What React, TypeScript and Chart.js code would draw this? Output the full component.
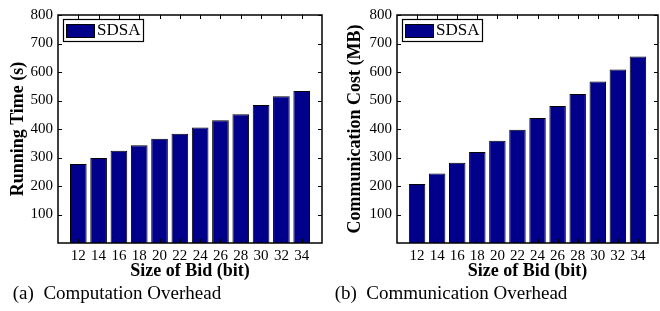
import React, { useEffect, useRef } from 'react';
import { Chart, registerables } from 'chart.js';

Chart.register(...registerables);

const bidSizes = [12, 14, 16, 18, 20, 22, 24, 26, 28, 30, 32, 34];
const runningTime = [277, 298, 324, 343, 366, 383, 405, 431, 452, 484, 515, 533];
const commCost = [207, 244, 282, 319, 359, 397, 439, 481, 523, 567, 609, 654];
const yTickValues = [100, 200, 300, 400, 500, 600, 700, 800];
const seriesLabel = 'SDSA';
const xTitle = 'Size of Bid (bit)';
const yTitleA = 'Running Time (s)';
const yTitleB = 'Communication Cost (MB)';
const captionA = '(a)  Computation Overhead';
const captionB = '(b)  Communication Overhead';

const FONT = "'Liberation Serif', 'Times New Roman', serif";
const BAR_COLOR = '#00008B';

const framePlugin = {
  id: 'frameTicksLegend',
  afterDatasetsDraw(chart: any) {
    const { ctx, chartArea, scales } = chart;
    const { left, right, top, bottom } = chartArea;
    const x = scales.x;
    const y = scales.y;
    ctx.save();
    ctx.strokeStyle = '#000';
    ctx.lineWidth = 1;
    const len = 4;
    ctx.beginPath();
    x.ticks.forEach((t: any) => {
      const px = Math.round(x.getPixelForValue(t.value)) + 0.5;
      ctx.moveTo(px, bottom);
      ctx.lineTo(px, bottom - len);
      ctx.moveTo(px, top);
      ctx.lineTo(px, top + len);
    });
    y.ticks.forEach((t: any) => {
      const py = Math.round(y.getPixelForValue(t.value)) + 0.5;
      ctx.moveTo(left, py);
      ctx.lineTo(left + len, py);
      ctx.moveTo(right, py);
      ctx.lineTo(right - len, py);
    });
    ctx.stroke();
    ctx.lineWidth = 1.5;
    ctx.strokeRect(left, top, right - left, bottom - top);

    // legend
    const opts = chart.options.plugins.frameTicksLegend || {};
    const bx = left + (opts.dx ?? 5);
    const by = top + 4;
    const bw = opts.w ?? 80;
    const bh = 22;
    ctx.fillStyle = '#fff';
    ctx.fillRect(bx, by, bw, bh);
    ctx.lineWidth = 1.2;
    ctx.strokeRect(bx + 0.5, by + 0.5, bw, bh);
    ctx.fillStyle = BAR_COLOR;
    ctx.fillRect(bx + 3, by + 5, 29, 14);
    ctx.lineWidth = 1;
    ctx.strokeRect(bx + 3.5, by + 5.5, 28, 13);
    ctx.fillStyle = '#000';
    ctx.font = `17px ${FONT}`;
    ctx.textBaseline = 'middle';
    ctx.textAlign = 'left';
    ctx.fillText(chart.data.datasets[0].label, bx + 34, by + 12);
    ctx.restore();
  },
};

function Panel(props: {
  values: number[];
  yTitle: string;
  yWidth: number;
  yTitlePad: number;
  rightPad: number;
  legendDx: number;
  legendW: number;
}) {
  const ref = useRef<HTMLCanvasElement>(null);
  useEffect(() => {
    const canvas = ref.current!;
    const chart = new Chart(canvas, {
      type: 'bar',
      data: {
        datasets: [
          {
            label: seriesLabel,
            data: bidSizes.map((b, i) => ({ x: b, y: props.values[i] })),
            backgroundColor: BAR_COLOR,
            borderColor: '#000',
            borderWidth: 1,
            barPercentage: 0.82,
            categoryPercentage: 1,
          },
        ],
      },
      options: {
        responsive: false,
        animation: false,
        devicePixelRatio: 1,
        layout: { padding: { left: 0, right: props.rightPad, top: 15, bottom: 0 } },
        plugins: {
          legend: { display: false },
          tooltip: { enabled: false },
          frameTicksLegend: { dx: props.legendDx, w: props.legendW },
        } as any,
        scales: {
          x: {
            type: 'linear',
            min: 10,
            max: 36,
            offset: false,
            grid: { display: false, drawTicks: false },
            border: { display: false },
            afterBuildTicks: (scale: any) => {
              scale.ticks = bidSizes.map((v) => ({ value: v }));
            },
            afterFit: (scale: any) => {
              scale.height = 42;
            },
            ticks: {
              color: '#000',
              font: { family: FONT, size: 15 },
              padding: 4,
              maxRotation: 0,
              autoSkip: false,
            },
            title: {
              display: true,
              text: xTitle,
              color: '#000',
              font: { family: FONT, size: 18, weight: 'bold' },
              padding: { top: 0, bottom: 3 },
            },
          },
          y: {
            min: 0,
            max: 800,
            grid: { display: false, drawTicks: false },
            border: { display: false },
            afterBuildTicks: (scale: any) => {
              scale.ticks = yTickValues.map((v) => ({ value: v }));
            },
            afterFit: (scale: any) => {
              scale.width = props.yWidth;
            },
            ticks: {
              color: '#000',
              font: { family: FONT, size: 15 },
              padding: 5,
            },
            title: {
              display: true,
              text: props.yTitle,
              color: '#000',
              font: { family: FONT, size: 18, weight: 'bold' },
              padding: { top: props.yTitlePad, bottom: 0 },
            },
          },
        },
      } as any,
      plugins: [framePlugin],
    });
    return () => chart.destroy();
  }, []);
  return <canvas ref={ref} width={330} height={285} style={{ display: 'block' }} />;
}

export default function App() {
  const captionStyle: React.CSSProperties = {
    position: 'absolute',
    top: 282,
    width: 240,
    textAlign: 'center',
    fontFamily: FONT,
    fontSize: 19,
    lineHeight: '22px',
    whiteSpace: 'pre',
    color: '#000',
  };
  return (
    <div style={{ position: 'absolute', left: 0, top: 0, width: 660, height: 311, background: '#fff', overflow: 'hidden' }}>
      <div style={{ position: 'absolute', left: 0, top: 0 }}>
        <Panel values={runningTime} yTitle={yTitleA} yWidth={58} yTitlePad={8} rightPad={8} legendDx={5} legendW={80} />
      </div>
      <div style={{ position: 'absolute', left: 330, top: 0 }}>
        <Panel values={commCost} yTitle={yTitleB} yWidth={67} yTitlePad={15} rightPad={2} legendDx={5} legendW={80} />
      </div>
      <div style={{ ...captionStyle, left: -3 }}>{captionA}</div>
      <div style={{ ...captionStyle, left: 331 }}>{captionB}</div>
    </div>
  );
}
